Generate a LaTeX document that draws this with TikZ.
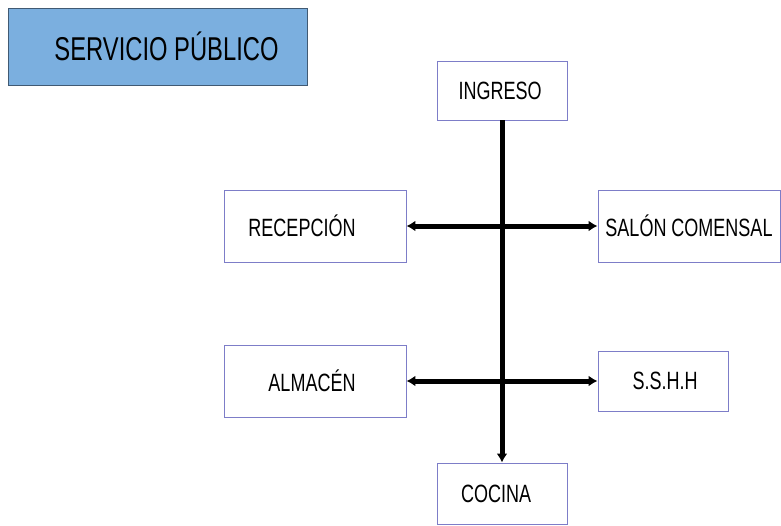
\documentclass[tikz,border=0pt]{standalone}
\usepackage{fontspec}
\setmainfont[FakeStretch=0.72]{Liberation Sans}
\usetikzlibrary{arrows.meta, positioning}

\definecolor{titlefill}{RGB}{123,175,223}
\definecolor{titleline}{RGB}{65,90,115}
\definecolor{boxline}{RGB}{125,125,200}

\tikzset{
  room/.style={draw=boxline, line width=0.9pt, fill=white, inner sep=0pt,
               font=\fontsize{25}{28}\selectfont},
  flow/.style={line width=5pt, {Latex[length=9pt,width=11pt]}-{Latex[length=9pt,width=11pt]}},
  flowdown/.style={line width=5pt, -{Latex[length=9pt,width=11pt]}}
}

\begin{document}
\begin{tikzpicture}[x=1pt, y=-1pt]
\useasboundingbox (0,0) rectangle (781,525);
\node at (157.5,46.5) [draw=titleline, line width=1pt, fill=titlefill, minimum width=299pt, minimum height=77pt, inner sep=0pt, font=\fontsize{33}{36}\selectfont] (titulo) {\hspace*{18pt}SERVICIO PÚBLICO};
\node at (502,90.5) [room, minimum width=130pt, minimum height=59pt] (ingreso) {INGRESO\hspace*{4pt}};
\node at (315,226) [room, minimum width=182pt, minimum height=72pt] (recepcion) {RECEPCIÓN\hspace*{26pt}};
\node at (689,226) [room, minimum width=182pt, minimum height=72pt] (salon) {SALÓN COMENSAL};
\node at (315,381) [room, minimum width=182pt, minimum height=72pt] (almacen) {ALMACÉN\hspace*{6pt}};
\node at (663,381) [room, minimum width=130pt, minimum height=60pt] (sshh) {\hspace*{4pt}S.S.H.H};
\node at (502,493.5) [room, minimum width=130pt, minimum height=61pt] (cocina) {COCINA\hspace*{12pt}};
\draw [flowdown] (ingreso) -- (cocina);
\draw [flow] (recepcion) -- (salon);
\draw [flow] (almacen) -- (sshh);
\end{tikzpicture}
\end{document}
